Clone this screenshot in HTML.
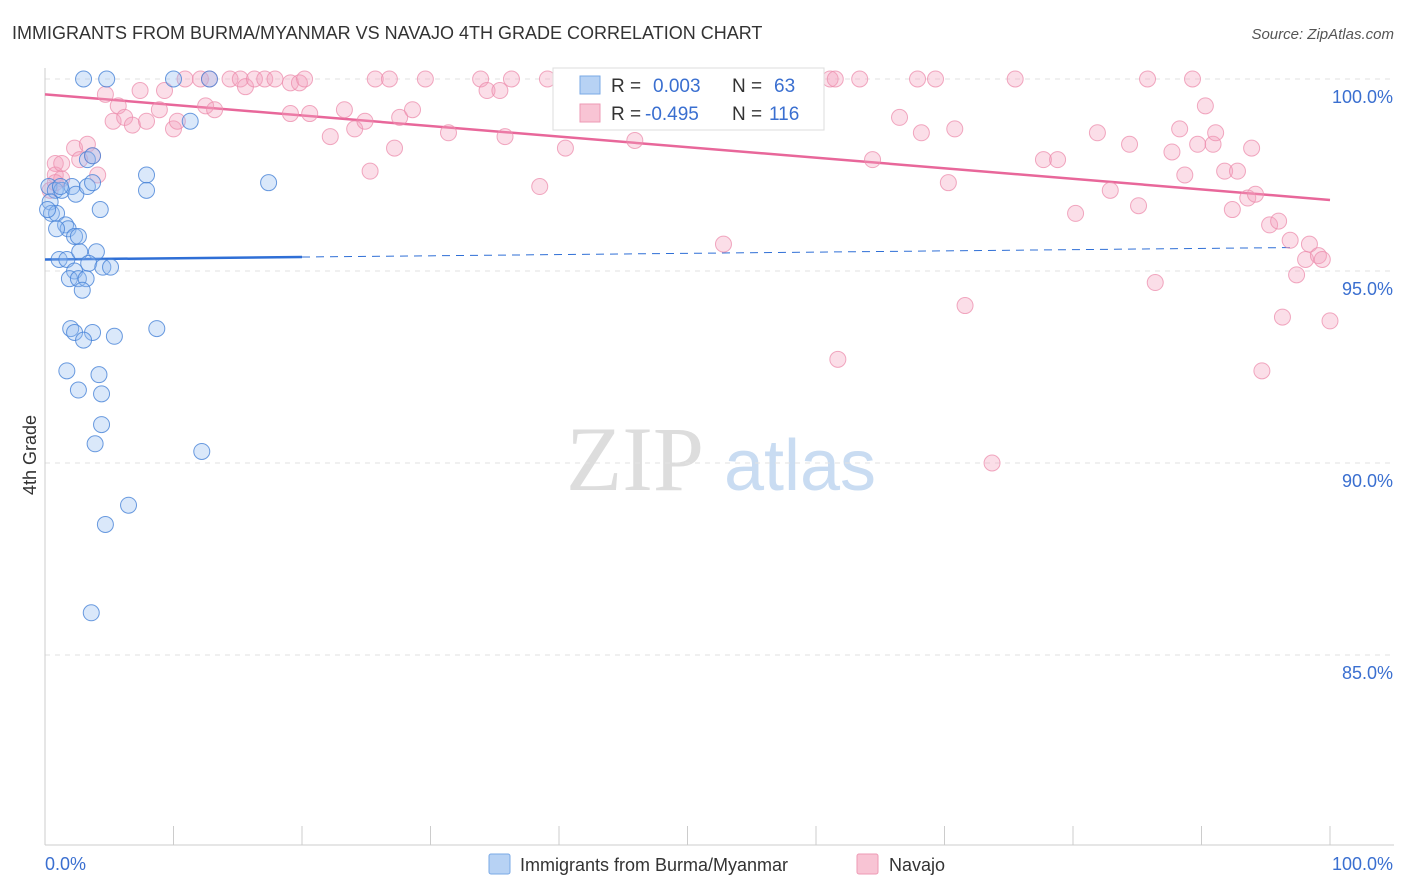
<!DOCTYPE html>
<html><head><meta charset="utf-8"><style>
body{margin:0;background:#fff;font-family:"Liberation Sans",sans-serif}
svg{display:block}
</style></head><body>
<svg id="chart" width="1406" height="892" xmlns="http://www.w3.org/2000/svg">
<text x="12" y="39" font-size="18" fill="#333">IMMIGRANTS FROM BURMA/MYANMAR VS NAVAJO 4TH GRADE CORRELATION CHART</text>
<text x="1394" y="39" font-size="15" fill="#555" text-anchor="end" font-style="italic">Source: ZipAtlas.com</text>
<text x="36" y="455" font-size="18" fill="#333" text-anchor="middle" transform="rotate(-90 36 455)">4th Grade</text>
<g>
<text x="635" y="490" font-size="92" fill="#ddd" font-family="Liberation Serif,serif" text-anchor="middle">ZIP</text>
<text x="800" y="490" font-size="72" fill="#c9dcf2" text-anchor="middle">atlas</text>
</g>
<g id="grid"></g><g id="axes"></g><g id="trend"></g><g id="pts"></g>
<g>
<rect x="553" y="68" width="271" height="62" fill="#fff" stroke="#ddd"/>
<rect x="580" y="76" width="20" height="18" fill="#b7d2f4" stroke="#7aa9e6"/>
<text x="611" y="92" font-size="19" fill="#333">R = </text><text x="653" y="92" font-size="19" fill="#3a6fd0">0.003</text>
<text x="732" y="92" font-size="19" fill="#333">N = </text><text x="774" y="92" font-size="19" fill="#3a6fd0">63</text>
<rect x="580" y="104" width="20" height="18" fill="#f8c4d4" stroke="#ee9ab4"/>
<text x="611" y="120" font-size="19" fill="#333">R = </text><text x="645" y="120" font-size="19" fill="#3a6fd0">-0.495</text>
<text x="732" y="120" font-size="19" fill="#333">N = </text><text x="769" y="120" font-size="19" fill="#3a6fd0">116</text>
</g>
<g>
<rect x="489" y="854" width="21" height="20" fill="#b7d2f4" stroke="#7aa9e6" rx="2"/>
<text x="520" y="871" font-size="18" fill="#333">Immigrants from Burma/Myanmar</text>
<rect x="857" y="854" width="21" height="20" fill="#f8c4d4" stroke="#ee9ab4" rx="2"/>
<text x="889" y="871" font-size="18" fill="#333">Navajo</text>
</g>
</svg>
<script>
const yTicks=[100,95,90,85];
const yTickLabels=["100.0%","95.0%","90.0%","85.0%"];
const xTickLabels=["0.0%","100.0%"];
const blueX=[3.0,4.8,10.0,12.8,11.3,7.9,7.9,17.4,0.3,0.8,1.3,2.1,2.4,3.3,3.7,4.3,0.4,0.5,0.9,1.6,1.8,2.3,2.6,0.9,0.2,1.1,1.7,2.7,4.0,3.4,4.5,5.1,2.3,1.9,2.6,3.2,2.9,2.0,2.3,3.7,5.4,3.0,8.7,1.7,4.2,2.6,4.4,4.4,3.9,12.2,6.5,4.7,3.6,3.3,3.7,1.2];
const blueY=[100,100,100,100,98.9,97.5,97.1,97.3,97.2,97.1,97.1,97.2,97.0,97.2,97.3,96.6,96.8,96.5,96.5,96.2,96.1,95.9,95.9,96.1,96.6,95.3,95.3,95.5,95.5,95.2,95.1,95.1,95.0,94.8,94.8,94.8,94.5,93.5,93.4,93.4,93.3,93.2,93.5,92.4,92.3,91.9,91.8,91.0,90.5,90.3,88.9,88.4,86.1,97.9,98.0,97.2];
const pinkX=[0.8,0.8,1.3,0.4,0.8,1.3,2.3,2.7,3.3,3.7,4.1,4.7,5.3,5.7,6.2,6.8,7.4,7.9,8.9,9.3,10.0,10.3,10.9,12.1,12.5,12.8,13.2,14.4,15.2,15.6,16.3,17.1,17.9,19.1,19.8,20.2,19.1,20.6,22.2,23.3,24.1,24.9,25.3,25.7,26.8,27.2,27.6,28.6,29.6,31.4,33.9,34.4,35.4,35.8,36.3,38.5,39.1,40.5,41.6,45.5,45.9,47.1,50.2,52.5,52.8,54.9,56.4,61.1,61.5,61.7,63.4,64.4,66.5,67.9,68.2,69.3,70.3,70.8,71.6,73.7,75.5,77.7,78.8,80.2,81.9,82.9,84.4,85.1,85.8,86.4,87.7,88.3,88.7,89.3,89.7,90.3,90.9,91.1,91.8,92.4,92.8,93.6,94.2,93.9,94.7,95.3,96.0,96.3,96.9,97.4,98.1,98.4,99.1,99.4,100];
const pinkY=[97.8,97.5,97.4,97.1,97.3,97.8,98.2,97.9,98.3,98.0,97.5,99.6,98.9,99.3,99.0,98.8,99.7,98.9,99.2,99.7,98.7,98.9,100,100,99.3,100,99.2,100,100,99.8,100,100,100,99.9,99.9,100,99.1,99.1,98.5,99.2,98.7,98.9,97.6,100,100,98.2,99.0,99.2,100,98.6,100,99.7,99.7,98.5,100,97.2,100,98.2,100,98.9,98.4,99.7,100,100,95.7,100,99.2,100,100,92.7,100,97.9,99.0,100,98.6,100,97.3,98.7,94.1,90.0,100,97.9,97.9,96.5,98.6,97.1,98.3,96.7,100,94.7,98.1,98.7,97.5,100,98.3,99.3,98.3,98.6,97.6,96.6,97.6,96.9,97.0,98.2,92.4,96.2,96.3,93.8,95.8,94.9,95.3,95.7,95.4,95.3,93.7];
const blueTrend=[95.3,95.62];
const pinkTrend=[99.6,96.85];
const NS="http://www.w3.org/2000/svg";
const X=v=>45+v*12.85, Y=v=>79+(100-v)*38.4;
function mk(t,a,p){const e=document.createElementNS(NS,t);for(const k in a)e.setAttribute(k,a[k]);document.getElementById(p).appendChild(e);return e;}
yTicks.forEach((t,i)=>{
 const g=mk('line',{x1:45,x2:1394,y1:Y(t),y2:Y(t),stroke:'#e2e2e2','stroke-dasharray':'5,5'},'grid');
 
 
 const l=mk('text',{x:1393,y:Y(t)+24,'font-size':18,fill:'#3a6fd0','text-anchor':'end'},'axes');l.textContent=yTickLabels[i];
 
 
});
mk('line',{x1:45,x2:45,y1:68,y2:845,stroke:'#ccc'},'axes');
mk('line',{x1:45,x2:1394,y1:845,y2:845,stroke:'#ccc'},'axes');
for(let i=0;i<=10;i++){const t=mk('line',{x1:X(i*10),x2:X(i*10),y1:826,y2:845,stroke:'#ccc'},'axes');
 
 }
let a=mk('text',{x:45,y:870,'font-size':18,fill:'#3a6fd0'},'axes');a.textContent=xTickLabels[0];


a=mk('text',{x:1393,y:870,'font-size':18,fill:'#3a6fd0','text-anchor':'end'},'axes');a.textContent=xTickLabels[1];


pinkX.forEach((x,i)=>{const c=mk('circle',{cx:X(x),cy:Y(pinkY[i]),r:8,fill:'rgba(244,160,188,0.35)',stroke:'rgba(236,140,172,0.75)','stroke-width':1},'pts');
 
 });
blueX.forEach((x,i)=>{const c=mk('circle',{cx:X(x),cy:Y(blueY[i]),r:8,fill:'rgba(150,190,240,0.35)',stroke:'rgba(70,130,215,0.8)','stroke-width':1},'pts');
 
 });
const bl=v=>blueTrend[0]+(blueTrend[1]-blueTrend[0])*v/100;
let l=mk('line',{x1:X(0),y1:Y(bl(0)),x2:X(20),y2:Y(bl(20)),stroke:'#2f6fd6','stroke-width':2.5},'trend');


l=mk('line',{x1:X(20),y1:Y(bl(20)),x2:X(97),y2:Y(bl(97)),stroke:'#2f6fd6','stroke-width':1,'stroke-dasharray':'8,6'},'trend');


l=mk('line',{x1:X(0),y1:Y(pinkTrend[0]),x2:X(100),y2:Y(pinkTrend[1]),stroke:'#e8679a','stroke-width':2.5},'trend');


</script>
</body></html>
